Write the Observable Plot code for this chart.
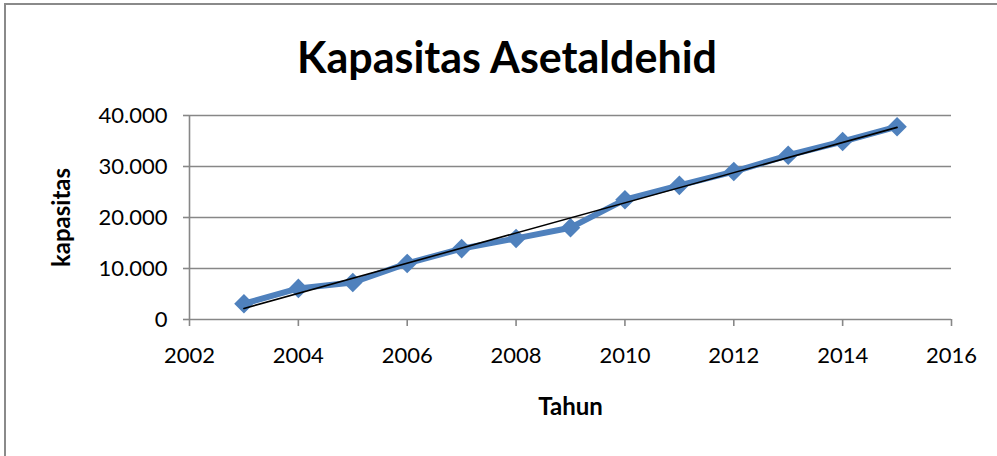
<!DOCTYPE html>
<html>
<head>
<meta charset="utf-8">
<script src="https://cdn.jsdelivr.net/npm/d3@7"></script>
<script src="https://cdn.jsdelivr.net/npm/@observablehq/plot@0.6"></script>
<style>
  html, body { margin: 0; padding: 0; background: #fff; }
  #wrap { position: relative; width: 997px; height: 456px; overflow: hidden; background: #fff; }
  #border { position: absolute; left: 4px; top: 3px; width: 1010px; height: 470px; border: 2px solid #8a8a8a; box-sizing: border-box; }
  #title { position: absolute; left: 0; top: 35px; width: 1014px; text-align: center; font-family: Lato, sans-serif; font-weight: bold; font-size: 43px; line-height: 44px; color: #000; }
  #chart { position: absolute; left: 0; top: 95px; }
</style>
</head>
<body>
<div id="wrap">
  <div id="border"></div>
  <div id="title">Kapasitas Asetaldehid</div>
  <div id="chart"></div>
</div>
<script>
const years = [2003, 2004, 2005, 2006, 2007, 2008, 2009, 2010, 2011, 2012, 2013, 2014, 2015];
const kapasitas = [3100, 6100, 7250, 11000, 13900, 15900, 18000, 23500, 26300, 29000, 32200, 34900, 37800];
const xTicks = [2002, 2004, 2006, 2008, 2010, 2012, 2014, 2016];
const yTicks = [0, 10000, 20000, 30000, 40000];
const gridLines = [10000, 20000, 30000, 40000];

const data = years.map((t, i) => ({tahun: t, kapasitas: kapasitas[i]}));
const fmtY = d => d === 0 ? "0" : d3.format(",")(d).replace(/,/g, ".");
const gray = "#878787";
const blue = "#4F81BD";

const chart = Plot.plot({
  width: 997,
  height: 361,
  marginLeft: 189,
  marginRight: 46,
  marginTop: 20,
  marginBottom: 137,
  style: {fontFamily: "Lato, sans-serif", fontSize: "22px", background: "transparent", color: "#000"},
  x: {domain: [2002, 2016]},
  y: {domain: [0, 40000]},
  marks: [
    Plot.ruleY(gridLines, {stroke: gray, strokeWidth: 1.6}),
    Plot.ruleY([0], {stroke: gray, strokeWidth: 1.6}),
    Plot.ruleX([2002], {stroke: gray, strokeWidth: 1.6}),
    Plot.axisY({ticks: yTicks, tickFormat: fmtY, tickSize: 6, tickPadding: 16, stroke: gray, strokeWidth: 1.6, fill: "#000", label: null}),
    Plot.axisX({ticks: xTicks, tickFormat: d => String(d), tickSize: 7, tickPadding: 21, stroke: gray, strokeWidth: 1.6, fill: "#000", label: null}),
    Plot.line(data, {x: "tahun", y: "kapasitas", stroke: blue, strokeWidth: 6, strokeLinejoin: "round"}),
    Plot.dot(data, {x: "tahun", y: "kapasitas", symbol: "diamond2", r: 8.8, fill: blue, stroke: "none"}),
    Plot.linearRegressionY(data, {x: "tahun", y: "kapasitas", stroke: "#000", strokeWidth: 1.6, ci: 0}),
    Plot.text(["kapasitas"], {frameAnchor: "left", dx: -127, rotate: -90, textAnchor: "middle", fontWeight: "bold", fontSize: 24}),
    Plot.text(["Tahun"], {frameAnchor: "bottom", dy: 95, textAnchor: "middle", fontWeight: "bold", fontSize: 24})
  ]
});
document.getElementById("chart").appendChild(chart);
</script>
</body>
</html>
